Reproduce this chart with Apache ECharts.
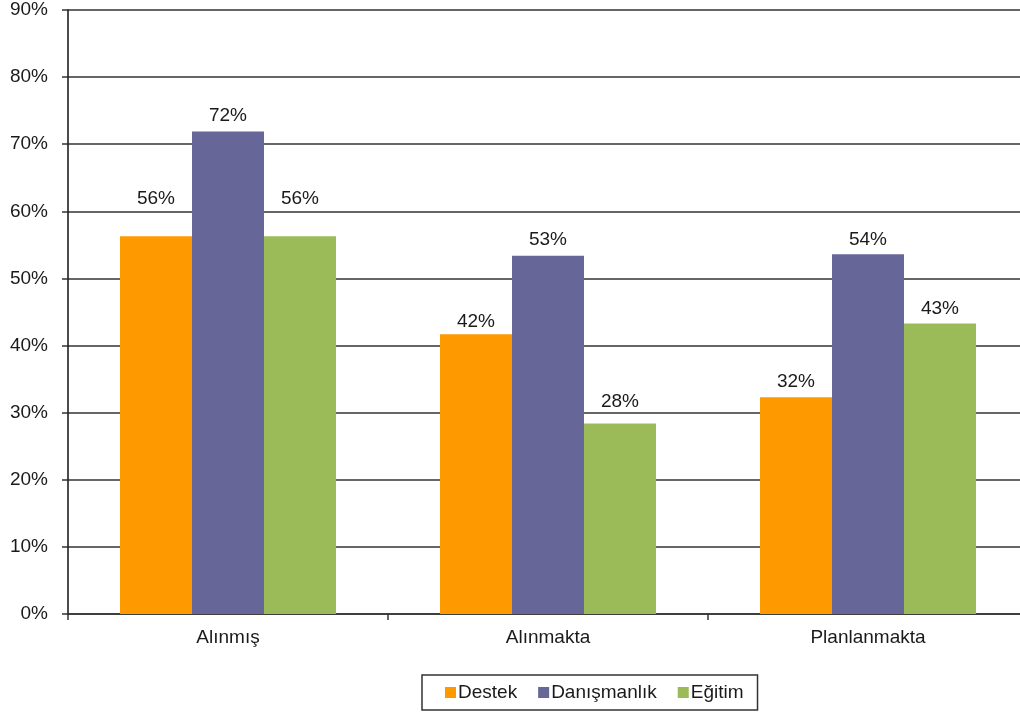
<!DOCTYPE html>
<html>
<head>
<meta charset="utf-8">
<script src="https://cdn.jsdelivr.net/npm/echarts@6/dist/echarts.min.js"></script>
<style>html,body{margin:0;padding:0;background:#fff;overflow:hidden;width:1020px;height:713px;}#c{width:1030px;height:713px;}</style>
</head>
<body>
<div id="c"></div>
<script>
var categories = ['Alınmış', 'Alınmakta', 'Planlanmakta'];
var seriesNames = ['Destek', 'Danışmanlık', 'Eğitim'];
var destek = [56.3, 41.7, 32.3];
var danismanlik = [71.9, 53.4, 53.6];
var egitim = [56.3, 28.4, 43.3];
var destekLabels = ['56%', '42%', '32%'];
var danismanlikLabels = ['72%', '53%', '54%'];
var egitimLabels = ['56%', '28%', '43%'];
var yTicks = [0, 10, 20, 30, 40, 50, 60, 70, 80, 90];
var colors = ['#FF9900', '#666699', '#9BBB59'];

var font = 'Liberation Sans, Arial, sans-serif';
function mk(name, vals, labels, color, dist) {
  return {
    name: name, type: 'bar', barGap: '0%', barCategoryGap: '32.5%',
    itemStyle: {color: color},
    data: vals.map(function (v, i) {
      return {value: v, label: {distance: dist[i]}};
    }),
    label: {
      show: true, position: 'top', distance: 6,
      formatter: function (p) { return labels[p.dataIndex]; },
      color: '#1a1a1a', fontSize: 19, fontFamily: font
    }
  };
}
var chart = echarts.init(document.getElementById('c'));
chart.setOption({
  animation: false,
  grid: {left: 68, top: 10, bottom: 99, width: 960, containLabel: false},
  legend: {
    data: seriesNames, left: 422, bottom: 3,
    itemWidth: 11, itemHeight: 11, itemGap: 21,
    icon: 'rect', borderColor: '#333', borderWidth: 1.5,
    padding: [8, 14, 8, 23],
    textStyle: {fontSize: 19, fontFamily: font, color: '#1a1a1a', padding: [0, 0, 0, -3]}
  },
  xAxis: {
    type: 'category', data: categories,
    axisLine: {lineStyle: {color: '#333', width: 1.5}},
    axisTick: {show: true, length: 6, lineStyle: {color: '#333', width: 1.5}},
    axisLabel: {fontSize: 19, fontFamily: font, color: '#1a1a1a', margin: 14}
  },
  yAxis: {
    type: 'value', min: 0, max: 90, interval: 10,
    axisLine: {show: true, lineStyle: {color: '#111', width: 1.5}},
    axisTick: {show: true, length: 6, lineStyle: {color: '#333', width: 1.5}},
    splitLine: {lineStyle: {color: '#333', width: 1.5}},
    axisLabel: {
      fontSize: 19, fontFamily: font, color: '#1a1a1a', margin: 20,
      formatter: function (v) { return yTicks.indexOf(v) >= 0 ? v + '%' : ''; }
    }
  },
  series: [
    mk(seriesNames[0], destek, destekLabels, colors[0], [28, 3, 6]),
    mk(seriesNames[1], danismanlik, danismanlikLabels, colors[1], [6, 6, 5]),
    mk(seriesNames[2], egitim, egitimLabels, colors[2], [28, 12, 5])
  ]
});
</script>
</body>
</html>
